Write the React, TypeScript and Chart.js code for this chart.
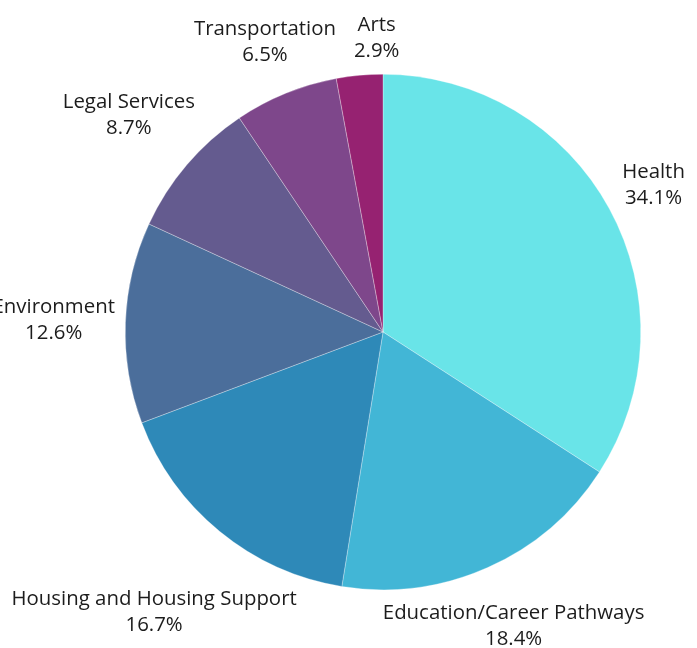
import React, { useEffect, useRef } from "react";
import { Chart, registerables } from "chart.js";

Chart.register(...registerables);

const categories = [
  "Health",
  "Education/Career Pathways",
  "Housing and Housing Support",
  "Environment",
  "Legal Services",
  "Transportation",
  "Arts",
];
const shares = [34.1, 18.4, 16.7, 12.6, 8.7, 6.5, 2.9];
const sliceColors = [
  "#69e4e8",
  "#42b6d6",
  "#2e89b8",
  "#4b6e9b",
  "#645b8f",
  "#7e478b",
  "#962271",
];

const FONT = "20.4px 'Open Sans'";
const LINE_H = 26;
const GAP = 10;
const COLLIDE_PAD = 18;

const outsideLabels = {
  id: "outsideLabels",
  afterDatasetsDraw(chart: any) {
    const ctx = chart.ctx;
    const meta = chart.getDatasetMeta(0);
    ctx.save();
    ctx.font = FONT;
    ctx.fillStyle = "#1c1c1c";
    ctx.textAlign = "center";
    ctx.textBaseline = "middle";
    const boxes: any[] = [];
    meta.data.forEach((arc: any, i: number) => {
      const { x, y, startAngle, endAngle, outerRadius } = arc.getProps(
        ["x", "y", "startAngle", "endAngle", "outerRadius"],
        true
      );
      const mid = (startAngle + endAngle) / 2;
      const vx = Math.cos(mid);
      const vy = Math.sin(mid);
      const lines = [categories[i], shares[i].toFixed(1) + "%"];
      const w = Math.max(...lines.map((l) => ctx.measureText(l).width));
      const hw = w / 2;
      const hh = (LINE_H * lines.length) / 2;
      const target = outerRadius + GAP;
      let t = 0;
      for (; t < 1000; t += 0.5) {
        const cx = vx * t;
        const cy = vy * t;
        const dx = Math.max(Math.abs(cx) - hw, 0);
        const dy = Math.max(Math.abs(cy) - hh, 0);
        if (Math.sqrt(dx * dx + dy * dy) >= target) break;
      }
      let cx = x + vx * t;
      const cy = y + vy * t;
      const prev = boxes[boxes.length - 1];
      if (prev) {
        const overlapY = Math.abs(prev.cy - cy) < prev.hh + hh;
        const overlapX = Math.abs(prev.cx - cx) < prev.hw + hw;
        if (overlapX && overlapY && cx > prev.cx) {
          cx = prev.cx + prev.hw + hw + COLLIDE_PAD;
        }
      }
      boxes.push({ cx, cy, hw, hh, lines });
    });
    boxes.forEach((b) => {
      b.lines.forEach((l: string, k: number) => {
        ctx.fillText(l, b.cx, b.cy - b.hh + LINE_H * (k + 0.5));
      });
    });
    ctx.restore();
  },
};

export default function App() {
  const ref = useRef<HTMLCanvasElement>(null);
  useEffect(() => {
    if (!ref.current) return;
    const chart = new Chart(ref.current, {
      type: "pie",
      data: {
        labels: categories,
        datasets: [
          {
            data: shares,
            backgroundColor: sliceColors,
            borderColor: "rgba(255,255,255,0.6)",
            borderWidth: 0.5,
          },
        ],
      },
      options: {
        animation: false,
        responsive: false,
        maintainAspectRatio: false,
        layout: { padding: { left: 125, right: 56, top: 74, bottom: 58 } },
        plugins: {
          legend: { display: false },
          tooltip: { enabled: false },
        },
      },
      plugins: [outsideLabels],
    });
    return () => chart.destroy();
  }, []);
  return (
    <div style={{ position: "absolute", left: 0, top: 0, width: 697, height: 648, background: "#fff" }}>
      <canvas ref={ref} width={697} height={648} style={{ width: 697, height: 648 }} />
    </div>
  );
}
